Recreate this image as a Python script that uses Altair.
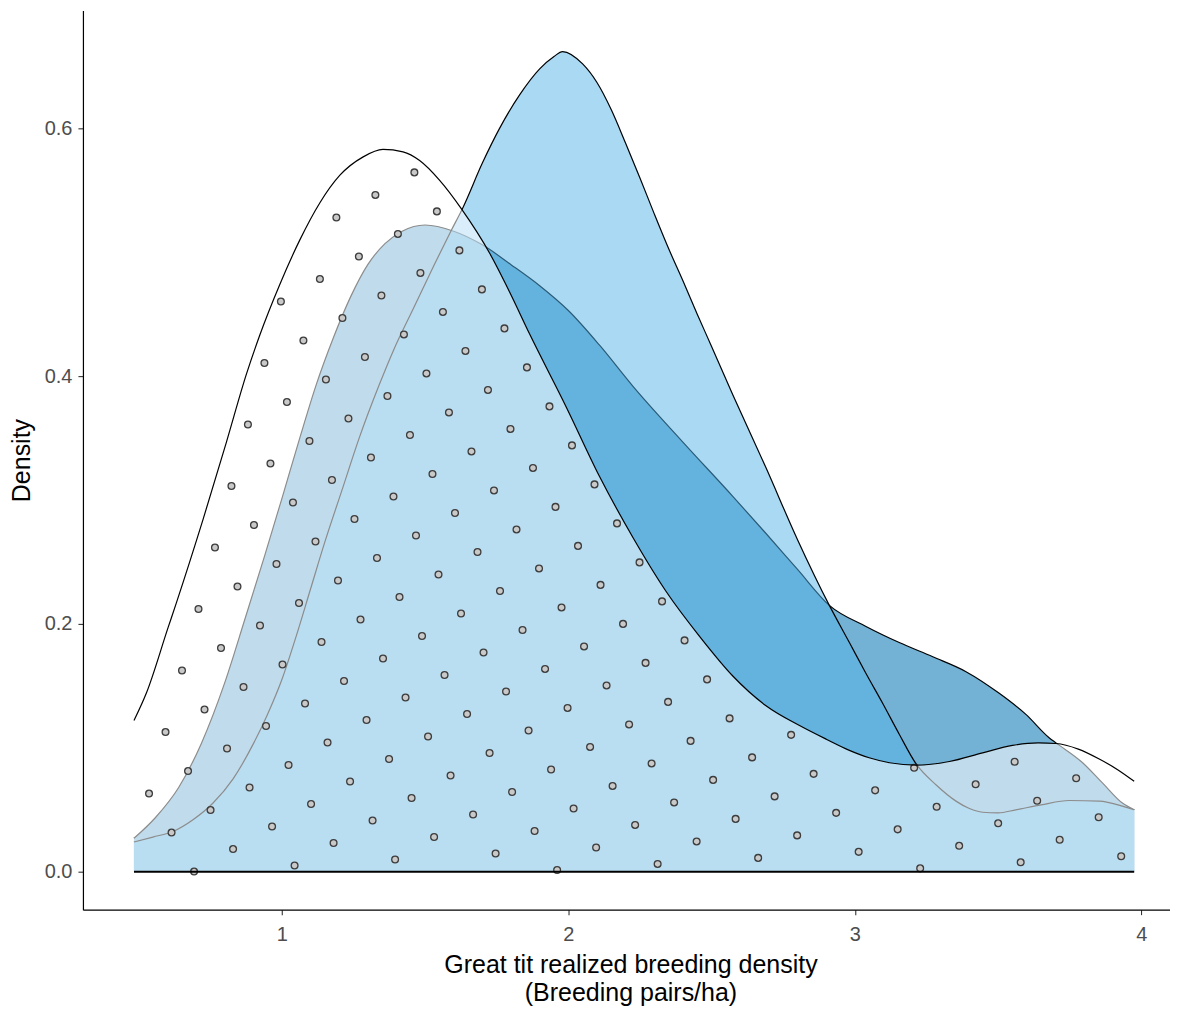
import altair as alt
import numpy as np
import pandas as pd

# ---- density curves ----
# Curve A: black outline, dotted pattern, translucent white fill (drawn on top)
a_x = [0.484, 0.527, 0.603, 0.632, 0.726, 0.807, 0.877, 0.923, 0.993, 1.063, 1.133, 1.202,
       1.284, 1.353, 1.423, 1.481, 1.551, 1.627, 1.726, 1.795, 1.865, 1.993, 2.109, 2.225,
       2.342, 2.458, 2.574, 2.690, 2.807, 2.900, 2.981, 3.050, 3.121, 3.214, 3.330, 3.446,
       3.550, 3.640, 3.702, 3.780, 3.853, 3.920, 3.975]
a_y = [0.122, 0.144, 0.197, 0.217, 0.285, 0.347, 0.402, 0.433, 0.474, 0.510, 0.540, 0.562,
       0.577, 0.583, 0.581, 0.574, 0.558, 0.535, 0.499, 0.468, 0.434, 0.375, 0.319, 0.270,
       0.226, 0.190, 0.158, 0.134, 0.118, 0.107, 0.098, 0.092, 0.088, 0.086, 0.089, 0.096,
       0.102, 0.104, 0.1035, 0.099, 0.091, 0.082, 0.073]

# Curve B: dark blue fill (bottom layer)
b_x = [0.484, 0.56, 0.64, 0.72, 0.80, 0.87, 0.94, 1.00, 1.06, 1.12, 1.18, 1.24, 1.30, 1.36,
       1.42, 1.50, 1.60, 1.70, 1.80, 1.90, 2.00, 2.109, 2.225, 2.399, 2.574, 2.690, 2.800,
       2.911, 3.039, 3.155, 3.272, 3.388, 3.504, 3.597, 3.679, 3.702, 3.795, 3.865, 3.934, 3.975]
b_y = [0.027, 0.044, 0.068, 0.104, 0.152, 0.203, 0.255, 0.301, 0.348, 0.393, 0.431, 0.464,
       0.490, 0.507, 0.517, 0.522, 0.517, 0.506, 0.490, 0.473, 0.453, 0.425, 0.392, 0.347,
       0.303, 0.273, 0.244, 0.215, 0.198, 0.185, 0.1735, 0.1615, 0.144, 0.127, 0.108, 0.104,
       0.088, 0.0715, 0.0554, 0.050]

# Curve C: sky blue fill (middle layer)
c_x = [0.484, 0.55, 0.62, 0.69, 0.76, 0.83, 0.90, 0.95, 1.00, 1.05, 1.10, 1.15, 1.21, 1.27,
       1.34, 1.39, 1.46, 1.53, 1.59, 1.632, 1.70, 1.76, 1.83, 1.90, 1.95, 1.98, 2.05, 2.10,
       2.15, 2.20, 2.25, 2.30, 2.35, 2.40, 2.45, 2.50, 2.574, 2.690, 2.800, 2.911, 2.981,
       3.039, 3.097, 3.155, 3.214, 3.284, 3.353, 3.40, 3.446, 3.50, 3.562, 3.65, 3.748,
       3.853, 3.934, 3.975]
c_y = [0.024, 0.028, 0.0325, 0.042, 0.0555, 0.075, 0.103, 0.127, 0.155, 0.190, 0.228, 0.266,
       0.308, 0.350, 0.393, 0.421, 0.455, 0.489, 0.517, 0.536, 0.572, 0.600, 0.627, 0.648,
       0.658, 0.662, 0.652, 0.637, 0.615, 0.588, 0.560, 0.531, 0.503, 0.477, 0.450, 0.424,
       0.385, 0.326, 0.268, 0.215, 0.185, 0.160, 0.136, 0.111, 0.087, 0.070, 0.057, 0.051,
       0.048, 0.0475, 0.050, 0.054, 0.0575, 0.057, 0.053, 0.050]

x_ticks = [1, 2, 3, 4]
y_ticks = [0.0, 0.2, 0.4, 0.6]
x_title = ["Great tit realized breeding density", "(Breeding pairs/ha)"]
y_title = "Density"

# ---- layout ----
X_MIN, X_MAX = 0.3059, 4.10
Y_MIN, Y_MAX = -0.0306, 0.6952
W, H = 1088, 900
FONT = "Liberation Sans"

# dot pattern (texture) parameters, in screen pixels
PAT_SPACING = 45.07
PAT_ANGLE = 30.0
PAT_ORIGIN = (1.4894, 0.1903)

kx = W / (X_MAX - X_MIN)
ky = H / (Y_MAX - Y_MIN)
th = np.deg2rad(PAT_ANGLE)
ux, uy = PAT_SPACING * np.cos(th), -PAT_SPACING * np.sin(th)
vx, vy = PAT_SPACING * np.sin(th), PAT_SPACING * np.cos(th)
dots = []
for i in range(-60, 61):
    for j in range(-60, 61):
        px = i * ux + j * vx
        py = i * uy + j * vy
        x = PAT_ORIGIN[0] + px / kx
        y = PAT_ORIGIN[1] - py / ky
        if a_x[0] <= x <= a_x[-1] and 0.0 <= y <= np.interp(x, a_x, a_y):
            dots.append((x, y))
df_dots = pd.DataFrame(dots, columns=["x", "y"])

df_a = pd.DataFrame({"x": a_x, "y": a_y})
df_b = pd.DataFrame({"x": b_x, "y": b_y})
df_c = pd.DataFrame({"x": c_x, "y": c_y})
df_base = pd.DataFrame({"x": [a_x[0]], "x2": [a_x[-1]], "y": [0.0]})

xs = alt.Scale(domain=[X_MIN, X_MAX], nice=False, zero=False)
ys = alt.Scale(domain=[Y_MIN, Y_MAX], nice=False, zero=False)
X = alt.X("x:Q", scale=xs, axis=alt.Axis(values=x_ticks, format="d", title=x_title,
                                         titleX=548, labelPadding=10, titlePadding=8,
                                         titleLineHeight=28))
Y = alt.Y("y:Q", scale=ys, axis=alt.Axis(values=y_ticks, format=".1f", title=y_title,
                                         labelPadding=6, titlePadding=10))

def area(df, color, op):
    return alt.Chart(df).mark_area(color=color, fillOpacity=op, interpolate="monotone").encode(
        x=X, y=Y, y2=alt.datum(0))

def line(df, color="black", w=1.2):
    return alt.Chart(df).mark_line(color=color, strokeWidth=w, interpolate="monotone").encode(x=X, y=Y)

dots_layer = alt.Chart(df_dots).mark_point(
    shape="circle", filled=True, fill="#c9c9c9", stroke="#3d3d3d", strokeWidth=1.3,
    size=46, opacity=1).encode(x=X, y=Y)

base = alt.Chart(df_base).mark_rule(color="black", strokeWidth=2).encode(x=X, x2="x2:Q", y=Y)

chart = alt.layer(
    area(df_b, "#0072B2", 0.55),
    line(df_b),
    area(df_c, "#56B4E9", 0.5),
    line(df_c),
    area(df_a, "#ffffff", 0.55),
    dots_layer,
    line(df_a),
    base,
).properties(
    width=W, height=H,
    autosize=alt.AutoSizeParams(type="none"),
    padding={"left": 75, "top": 2, "right": 0, "bottom": 102},
    background="white",
).configure_view(stroke=None).configure_axis(
    grid=False, domainColor="black", domainWidth=1.2, tickColor="#333333", tickWidth=1.1,
    tickSize=5, labelColor="#4d4d4d", labelFont=FONT, labelFontSize=20, titleFont=FONT,
    titleFontSize=25, titleFontWeight="normal", titleColor="black",
)

chart.save("out.html", embed_options={"renderer": "svg", "actions": False})
